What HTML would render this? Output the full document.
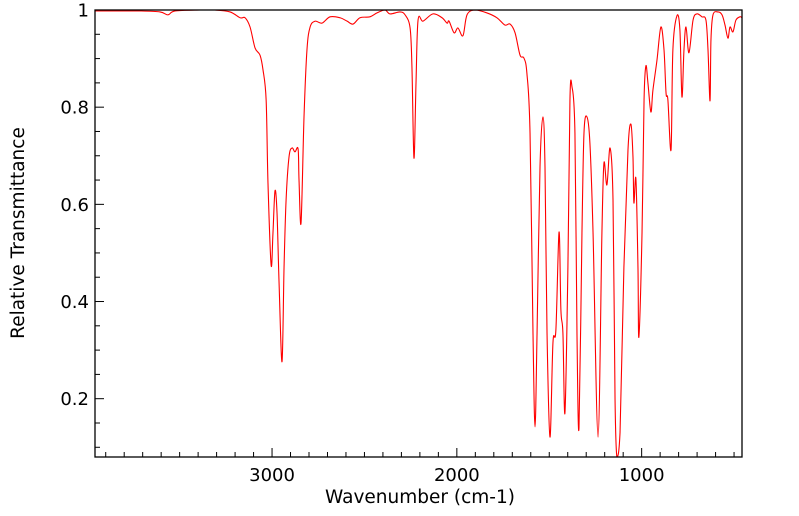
<!DOCTYPE html>
<html><head><meta charset="utf-8"><style>
html,body{margin:0;padding:0;background:#fff;}
svg{display:block;font-family:"DejaVu Sans","Liberation Sans",sans-serif;}
</style></head>
<body>
<svg id="chart" width="799" height="516" viewBox="0 0 799 516" xmlns="http://www.w3.org/2000/svg">
<g id="ticks"></g>
<g id="labels"></g>
<path id="series" fill="none" stroke="#ff0000" stroke-width="1.1" stroke-linejoin="round"></path>
<rect x="95" y="10" width="647" height="447" fill="none" stroke="#000" stroke-width="1.3"></rect>
<text x="420" y="503" font-size="18.5" text-anchor="middle">Wavenumber (cm-1)</text>
<text transform="translate(24,233) rotate(-90)" font-size="18.5" text-anchor="middle">Relative Transmittance</text>
</svg>
<script>
const wavenumbers = [3958,3822,3714,3606,3563,3525,3390,3308,3227,3173,3146,3119,3092,3065,3049,3032,3022,3005,2995,2984,2973,2962,2946,2935,2924,2908,2892,2876,2859,2854,2843,2827,2811,2794,2767,2730,2686,2632,2594,2562,2524,2470,2432,2389,2362,2308,2280,2253,2243,2232,2221,2210,2183,2129,2080,2053,2042,2015,1994,1967,1945,1902,1837,1783,1740,1712,1685,1658,1637,1621,1604,1588,1577,1566,1550,1534,1523,1512,1496,1480,1464,1447,1437,1426,1415,1399,1388,1377,1361,1350,1339,1323,1312,1296,1280,1263,1236,1215,1204,1188,1171,1155,1144,1134,1117,1096,1074,1058,1047,1042,1031,1020,1015,998,987,977,966,950,939,917,896,879,868,858,841,831,809,793,782,771,760,744,722,701,674,652,641,630,625,614,587,565,549,533,522,506,490,468,457];
const transmittance = [.998,.998,.998,.996,.990,.998,1.0,1.0,.996,.984,.984,.965,.922,.907,.877,.815,.644,.475,.541,.628,.582,.438,.276,.471,.609,.698,.716,.708,.714,.650,.562,.780,.918,.965,.977,.973,.986,.984,.977,.971,.984,.986,.994,1.0,.992,.996,.990,.963,.883,.695,.850,.979,.977,.992,.984,.973,.977,.953,.963,.947,.990,1.0,.994,.984,.969,.971,.953,.907,.901,.870,.747,.335,.142,.335,.677,.780,.677,.335,.121,.315,.342,.543,.383,.335,.171,.471,.815,.842,.747,.335,.140,.541,.747,.780,.726,.541,.121,.541,.685,.640,.716,.609,.198,.080,.130,.471,.712,.765,.698,.603,.652,.471,.327,.541,.815,.885,.850,.790,.835,.897,.965,.918,.829,.815,.712,.918,.988,.959,.821,.918,.965,.912,.979,.992,.986,.979,.918,.813,.938,.990,.996,.990,.969,.942,.965,.955,.979,.986,.984];
const xMajorTicks = [3000,2000,1000];
const xMajorLabels = ["3000","2000","1000"];
const yMajorTicks = [0.2,0.4,0.6,0.8,1];
const yMajorLabels = ["0.2","0.4","0.6","0.8","1"];

const X0=95,X1=742,Y0=10,Y1=457;
const WN_LEFT=3958,WN_RIGHT=457,T_MIN=0.08,T_MAX=1.0;
function xs(w){return X0+(WN_LEFT-w)/(WN_LEFT-WN_RIGHT)*(X1-X0);}
function ys(t){return Y1-(t-T_MIN)/(T_MAX-T_MIN)*(Y1-Y0);}
const NS="http://www.w3.org/2000/svg";

const pts=wavenumbers.map((w,i)=>[xs(w),Math.min(Y1,ys(transmittance[i]))]);
let d="M"+pts[0][0].toFixed(2)+","+pts[0][1].toFixed(2);
for(let i=0;i<pts.length-1;i++){
  const p0=pts[Math.max(0,i-1)],p1=pts[i],p2=pts[i+1],p3=pts[Math.min(pts.length-1,i+2)];
  const c1=[p1[0]+(p2[0]-p0[0])/6,p1[1]+(p2[1]-p0[1])/6];
  const c2=[p2[0]-(p3[0]-p1[0])/6,p2[1]-(p3[1]-p1[1])/6];
  c1[1]=Math.min(Y1,Math.max(Y0,c1[1]));c2[1]=Math.min(Y1,Math.max(Y0,c2[1]));
  d+=" C"+c1[0].toFixed(2)+","+c1[1].toFixed(2)+" "+c2[0].toFixed(2)+","+c2[1].toFixed(2)+" "+p2[0].toFixed(2)+","+p2[1].toFixed(2);
}
document.getElementById('series').setAttribute('d',d);

const tg=document.getElementById('ticks'),lg=document.getElementById('labels');
function line(x1,y1,x2,y2,name){
  const l=document.createElementNS(NS,'line');
  l.setAttribute('x1',x1);l.setAttribute('y1',y1);l.setAttribute('x2',x2);l.setAttribute('y2',y2);
  l.setAttribute('stroke','#000');l.setAttribute('stroke-width','1');
  
  
  tg.appendChild(l);
}
for(let w=3900;w>=WN_RIGHT;w-=100){
  const x=xs(w);const major=w%1000===0;
  line(x,Y1,x,Y1-(major?9:5),major?'x-major-tick':'x-minor-tick');
}
for(let k=2;k<=20;k++){
  const t=k*0.05;const y=ys(t);const major=(k%4===0);
  line(X0,y,X0+(major?9:5),y,major?'y-major-tick':'y-minor-tick');
}
xMajorTicks.forEach((w,i)=>{
  const t=document.createElementNS(NS,'text');
  t.setAttribute('x',xs(w));t.setAttribute('y',481);t.setAttribute('font-size','18');t.setAttribute('text-anchor','middle');
  t.textContent=xMajorLabels[i];
  
  
  lg.appendChild(t);
});
yMajorTicks.forEach((v,i)=>{
  const t=document.createElementNS(NS,'text');
  t.setAttribute('x',89);t.setAttribute('y',ys(v)+6.5);t.setAttribute('font-size','18');t.setAttribute('text-anchor','end');
  t.textContent=yMajorLabels[i];
  
  
  lg.appendChild(t);
});
</script>
</body></html>
